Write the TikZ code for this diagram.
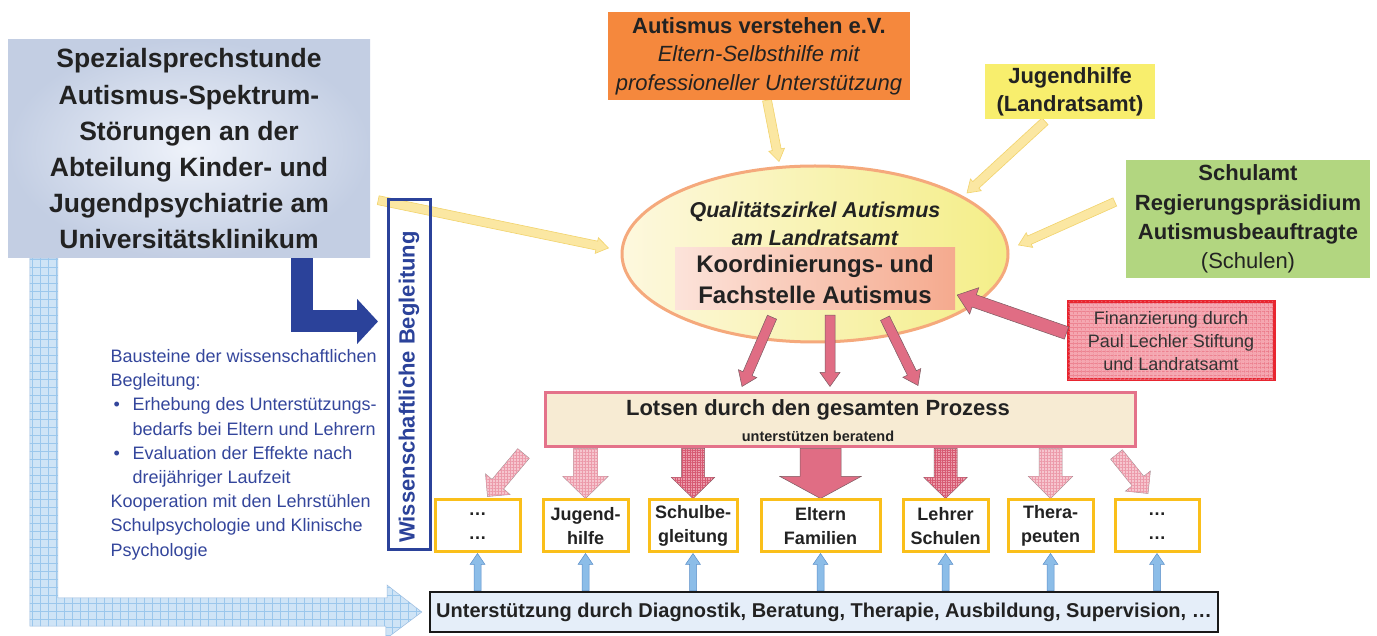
\documentclass[tikz,border=0pt]{standalone}
\usepackage{fontspec}
\setmainfont{Liberation Sans}
\usetikzlibrary{shapes.geometric,calc,arrows.meta,patterns.meta}

\definecolor{txt}{HTML}{222222}
\definecolor{navy}{HTML}{2B429A}
\definecolor{navytext}{HTML}{34469C}
\definecolor{lbin}{HTML}{EEF2FA}
\definecolor{lbout}{HTML}{C3CEE3}
\definecolor{orangebox}{HTML}{F5883D}
\definecolor{yellowbox}{HTML}{F8EE6D}
\definecolor{greenbox}{HTML}{B2D680}
\definecolor{ellleft}{HTML}{FDF8DE}
\definecolor{ellright}{HTML}{F4EE88}
\definecolor{ellline}{HTML}{F5A97C}
\definecolor{kfleft}{HTML}{FCE3DA}
\definecolor{kfright}{HTML}{F5AA8E}
\definecolor{yarrow}{HTML}{FBE7A2}
\definecolor{yarrowline}{HTML}{F2D36C}
\definecolor{pinkarrow}{HTML}{E06D84}
\definecolor{pinkpale}{HTML}{F6C6CF}
\definecolor{pinknet}{HTML}{EC9AAA}
\definecolor{pinkmid}{HTML}{EC9DAC}
\definecolor{pinkdeep}{HTML}{D65A72}
\definecolor{arrowedge}{HTML}{7A5A60}
\definecolor{lotsfill}{HTML}{F7EBD3}
\definecolor{lotsline}{HTML}{E4728A}
\definecolor{finfill}{HTML}{F5A6B0}
\definecolor{finnet}{HTML}{E9707F}
\definecolor{finline}{HTML}{E8252F}
\definecolor{gold}{HTML}{FABF1A}
\definecolor{skyarrow}{HTML}{8CBDE8}
\definecolor{skyedge}{HTML}{5B8FC9}
\definecolor{skyfill}{HTML}{E5EEF9}
\definecolor{skyL}{HTML}{CFE4F6}
\definecolor{skyLnet}{HTML}{9BC7EC}

\newcommand\setfs[2]{\fontsize{#1}{#2}\selectfont}

% block arrow: [style]{from}{to}{half shaft}{half head}{head length}
\newcommand\blockarrow[6][]{%
  \draw[#1] let \p1=(#2), \p2=(#3), \p3=($(\p2)!#6!(\p1)$) in
    ($(\p1)!#4!90:(\p2)$) -- ($(\p3)!#4!90:(\p2)$) -- ($(\p3)!#5!90:(\p2)$) -- (\p2)
    -- ($(\p3)!#5!-90:(\p2)$) -- ($(\p3)!#4!-90:(\p2)$) -- ($(\p1)!#4!-90:(\p2)$) -- cycle;}

\pgfdeclarelayer{background}
\pgfsetlayers{background,main}

\tikzset{
  net/.style n args={3}{fill=#1,
    postaction={pattern={Lines[angle=0,distance=#3,line width=.5pt]},pattern color=#2},
    postaction={pattern={Lines[angle=90,distance=#3,line width=.5pt]},pattern color=#2}},
  yarrow/.style={fill=yarrow, draw=yarrowline, line width=.6pt},
  parrow/.style={fill=pinkarrow, draw=arrowedge, line width=.5pt},
  pale/.style={net={pinkpale}{pinknet}{3pt}, draw=arrowedge!70, line width=.5pt},
  dense/.style={net={pinkmid}{pinkdeep}{2.5pt}, draw=arrowedge, line width=.5pt},
  skyup/.style={fill=skyarrow, draw=skyedge, line width=.5pt},
  target/.style={draw=gold, line width=3pt, fill=white, minimum height=52pt,
    align=center, font=\setfs{18}{24}\bfseries},
}

\begin{document}
\begin{tikzpicture}[x=1pt,y=1pt, every node/.append style={text=txt}]
\useasboundingbox (0,0) rectangle (1377,635);

% clinic and the side notes
\node[inner color=lbin, outer color=lbout, minimum width=362pt, minimum height=218pt,
  align=center, font=\setfs{26.5}{36.2}\bfseries] (lb) at (189,486)
  {Spezialsprechstunde\\Autismus-Spektrum-\\Störungen an der\\Abteilung Kinder- und\\Jugendpsychiatrie am\\Universitätsklinikum};
\node[anchor=north west, text=navytext, align=left, font=\setfs{18}{24.2}] (notes) at (107,289)
  {Bausteine der wissenschaftlichen\\Begleitung:\\
   \makebox[22pt][l]{\,•}Erhebung des Unterstützungs-\\\hspace*{22pt}bedarfs bei Eltern und Lehrern\\
   \makebox[22pt][l]{\,•}Evaluation der Effekte nach\\\hspace*{22pt}dreijähriger Laufzeit\\
   Kooperation mit den Lehrstühlen\\Schulpsychologie und Klinische\\Psychologie};

% partners on top
\node[fill=orangebox, minimum width=302pt, minimum height=88pt, align=center,
  font=\setfs{22}{28.5}] (av) at (759,579)
  {\textbf{Autismus verstehen e.V.}\\\textit{Eltern-Selbsthilfe mit}\\\textit{professioneller Unterstützung}};
\node[fill=yellowbox, minimum width=170pt, minimum height=53pt, align=center,
  font=\setfs{22}{28}\bfseries] (jh) at (1070,543.5) {Jugendhilfe\\(Landratsamt)};
\node[fill=greenbox, minimum width=244pt, minimum height=118pt, align=center,
  font=\setfs{22}{29.3}] (sa) at (1248,416)
  {\textbf{Schulamt}\\\textbf{Regierungspräsidium}\\\textbf{Autismusbeauftragte}\\(Schulen)};

% quality circle
\node[ellipse, draw=ellline, line width=3pt, left color=ellleft, right color=ellright,
  minimum width=386pt, minimum height=176pt] (qz) at (815,381) {};
\node[align=center, font=\setfs{21.5}{28}\bfseries\itshape] (qzt) at (815,411)
  {Qualitätszirkel Autismus\\am Landratsamt};
\node[left color=kfleft, right color=kfright, minimum width=280pt, minimum height=62pt,
  align=center, font=\setfs{24}{31}\bfseries] (kf) at (815,356)
  {Koordinierungs- und\\Fachstelle Autismus};

\node[net={finfill}{finnet}{4pt}, draw=finline, line width=3pt, minimum width=206pt,
  minimum height=78pt, align=center, text=black!80, font=\setfs{18}{23}] (fin) at (1171,294)
  {Finanzierung durch\\Paul Lechler Stiftung\\und Landratsamt};

% lotsen bar
\node[fill=lotsfill, draw=lotsline, line width=3pt, minimum width=590pt, minimum height=54pt] (lo) at (840,215) {};
\node[font=\setfs{22}{26}\bfseries] (lotA) at (818,225) {Lotsen durch den gesamten Prozess};
\node[font=\setfs{14.5}{18}\bfseries] (lotB) at (818,199) {unterstützen beratend};

% targets
\node[target, minimum width=85pt] (b1) at (477.5,109) {…\\…};
\node[target, minimum width=85pt] (b2) at (585.5,109) {Jugend-\\hilfe};
\node[target, minimum width=88pt] (b3) at (693,109) {Schulbe-\\gleitung};
\node[target, minimum width=119pt] (b4) at (820.5,109) {Eltern\\Familien};
\node[target, minimum width=85pt] (b5) at (945.5,109) {Lehrer\\Schulen};
\node[target, minimum width=85pt] (b6) at (1050.5,109) {Thera-\\peuten};
\node[target, minimum width=84pt] (b7) at (1157,109) {…\\…};

\node[draw=black!90, line width=2.5pt, fill=skyfill, minimum width=788pt, minimum height=40pt,
  font=\setfs{20}{24}\bfseries] (ub) at (824,23)
  {Unterstützung durch Diagnostik, Beratung, Therapie, Ausbildung, Supervision, …};

\begin{pgfonlayer}{background}
  \fill[white] (0,0) rectangle (1377,635);

  % feeding the circle
  \blockarrow[yarrow]{$(av.south)+(8,0)$}{$(qz.north)+(-36,3)$}{4.5pt}{8pt}{12pt}
  \blockarrow[yarrow]{$(jh.south)+(-25,-2)$}{$(qz.center)+(152,61)$}{4.5pt}{8pt}{12pt}
  \blockarrow[yarrow]{$(sa.west)+(-11,17)$}{$(qz.east)+(9,9)$}{4.5pt}{8pt}{12pt}
  \blockarrow[yarrow]{$(lb.south east)+(8,58)$}{$(qz.west)+(-12,6)$}{4.5pt}{8pt}{12pt}

  % lotsen to the targets
  \blockarrow[pale]{$(lo.south west)+(-20,-5)$}{$(b1.north)+(10,2)$}{7.5pt}{16pt}{16pt}
  \blockarrow[pale]{b2.north |- lo.south}{b2.north}{12pt}{22.5pt}{22pt}
  \blockarrow[dense]{b3.north |- lo.south}{b3.north}{11.5pt}{21.5pt}{21pt}
  \blockarrow[parrow]{b4.north |- lo.south}{b4.north}{20.5pt}{40.5pt}{22pt}
  \blockarrow[dense]{b5.north |- lo.south}{b5.north}{11.5pt}{21.5pt}{21pt}
  \blockarrow[pale]{b6.north |- lo.south}{b6.north}{11.5pt}{22pt}{22pt}
  \blockarrow[pale]{$(lo.south east)+(-20,-6)$}{$(b7.north)+(-9,5)$}{7.5pt}{16pt}{16pt}

  % support from below
  \foreach \i in {1,...,7}{%
    \blockarrow[skyup]{b\i.south |- ub.north}{b\i.south}{3.5pt}{7.5pt}{11pt}}

  % clinic to the support bar
  \path[net={skyL}{skyLnet}{8pt}, draw=skyedge!60, line width=.5pt]
    ([xshift=22pt]lb.south west) -- ++(28,0) |- (387,37) -- ++(0,13)
    -- ([xshift=-7pt]ub.west) -- ++(-36,-27) -- ++(0,13) -| ([xshift=22pt]lb.south west) -- cycle;
\end{pgfonlayer}

% circle to lotsen
\blockarrow[parrow]{$(kf.south)+(-43,-7)$}{$(lo.north)+(-98,5)$}{5pt}{10pt}{14pt}
\blockarrow[parrow]{$(kf.south)+(15,-5)$}{$(lo.north)+(-10,5)$}{5pt}{10pt}{14pt}
\blockarrow[parrow]{$(kf.south)+(70,-8)$}{$(lo.north)+(78,6)$}{5pt}{10pt}{14pt}
\blockarrow[parrow]{$(fin.west)+(0,8)$}{$(kf.east)+(2,-16)$}{6.5pt}{14pt}{18pt}

% scientific monitoring
\draw[navy, line width=22pt, -{Triangle[width=44pt,length=21pt]}]
  ([xshift=113pt]lb.south) |- (378,313.5);
\node[draw=navy, line width=3pt, minimum width=42pt, minimum height=350pt,
  font=\setfs{22}{26}\bfseries] (wb) at (409,260)
  {\rotatebox{90}{\color{navy}Wissenschaftliche Begleitung\hspace*{24pt}}};
\end{tikzpicture}
\end{document}
